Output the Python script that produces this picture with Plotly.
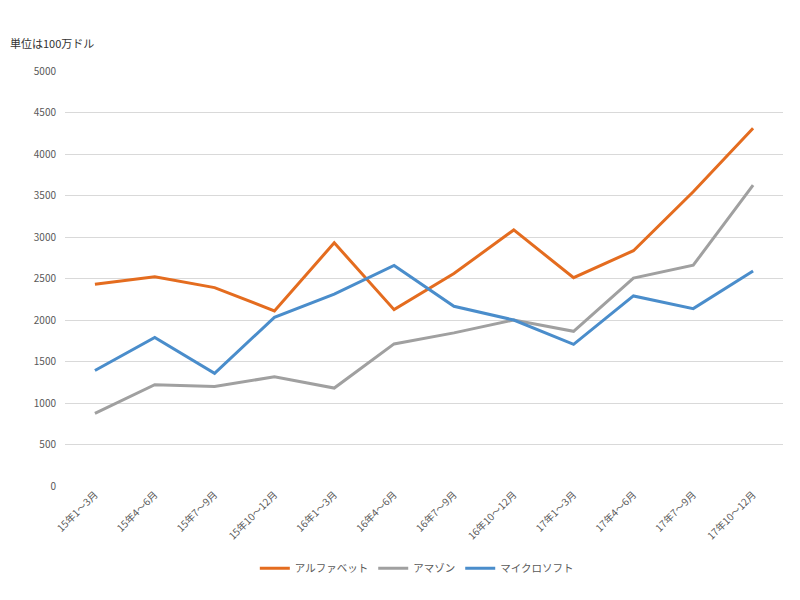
import plotly.graph_objects as go

categories = ["15年1～3月", "15年4～6月", "15年7～9月", "15年10～12月",
              "16年1～3月", "16年4～6月", "16年7～9月", "16年10～12月",
              "17年1～3月", "17年4～6月", "17年7～9月", "17年10～12月"]
alphabet = [2430, 2520, 2390, 2110, 2930, 2125, 2560, 3085, 2510, 2835, 3545, 4310]
amazon = [875, 1220, 1200, 1315, 1180, 1712, 1845, 2000, 1864, 2505, 2660, 3625]
microsoft = [1392, 1790, 1358, 2032, 2312, 2657, 2165, 2000, 1707, 2290, 2137, 2591]
y_ticks = [0, 500, 1000, 1500, 2000, 2500, 3000, 3500, 4000, 4500, 5000]

FONT = "Noto Sans CJK JP"

fig = go.Figure()
fig.add_trace(go.Scatter(x=categories, y=alphabet, name="アルファベット", mode="lines",
                         line=dict(color="#E46C1F", width=3)))
fig.add_trace(go.Scatter(x=categories, y=amazon, name="アマゾン", mode="lines",
                         line=dict(color="#A0A0A0", width=3)))
fig.add_trace(go.Scatter(x=categories, y=microsoft, name="マイクロソフト", mode="lines",
                         line=dict(color="#4A8DCB", width=3)))

fig.update_layout(
    width=792, height=592,
    margin=dict(l=57, r=17, t=63, b=114, autoexpand=False),
    paper_bgcolor="white", plot_bgcolor="white",
    font=dict(family=FONT, size=11, color="#595959"),
    showlegend=True,
    legend=dict(orientation="h", x=0.49, xanchor="center", y=-0.198, yanchor="middle",
                font=dict(size=10.5, color="#595959"), itemwidth=30),
    xaxis=dict(type="category", range=[-0.5, 11.5], tickangle=-45, automargin=False,
               showgrid=False, zeroline=False, showline=False, ticks="",
               tickfont=dict(size=10, color="#595959")),
    yaxis=dict(range=[0, 5000], tickvals=y_ticks, showgrid=True, gridcolor="#D9D9D9",
               gridwidth=1, zeroline=False, showline=False, ticks="", automargin=False,
               ticklabelstandoff=8, tickfont=dict(size=10, color="#595959")),
    annotations=[dict(text="単位は100万ドル", xref="paper", yref="paper",
                      x=-57/718, y=1 + 28/415, xanchor="left", yanchor="middle",
                      showarrow=False, font=dict(size=11, color="#333333"))],
)

fig.write_html("out.html")
